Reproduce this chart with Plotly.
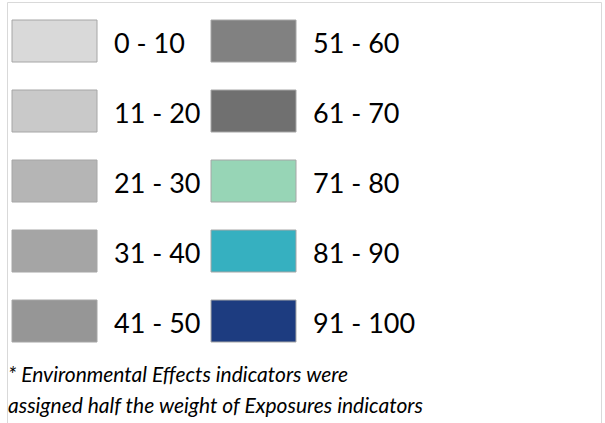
import plotly.graph_objects as go

# ---- data ----
labels = ["0 - 10", "11 - 20", "21 - 30", "31 - 40", "41 - 50",
          "51 - 60", "61 - 70", "71 - 80", "81 - 90", "91 - 100"]
colors = ["#d9d9d9", "#c9c9c9", "#b5b5b5", "#a5a5a5", "#969696",
          "#818181", "#707070", "#97d5b6", "#36b0c0", "#1d3c80"]
footnote = ["* Environmental Effects indicators were",
            "assigned half the weight of Exposures indicators"]

# ---- layout constants ----
W, H = 605, 423
rows_per_col = 5
col_x0 = [12, 211]
sw_w = 85
sw_h = 42
row_top0 = 20
row_step = 70
text_dx = 100

xs, bases = [], []
ann = []
for i, (lab, c) in enumerate(zip(labels, colors)):
    col, row = divmod(i, rows_per_col)
    x0 = col_x0[col]
    top = row_top0 + row * row_step
    xs.append(x0 + sw_w / 2)
    bases.append(top)
    ann.append(dict(x=x0 + text_dx, y=top + sw_h / 2 + 1, text=lab,
                    xanchor="left", yanchor="middle", showarrow=False,
                    font=dict(family="Lato", size=27, color="#000000")))

fig = go.Figure(go.Bar(
    x=xs, y=[sw_h] * len(labels), base=bases, width=[sw_w] * len(labels),
    marker=dict(color=colors, line=dict(color="#a6a6a6", width=1)),
    hoverinfo="skip", showlegend=False,
))

foot_y = [373, 404]
for txt, yy in zip(footnote, foot_y):
    ann.append(dict(x=6, y=yy, text="<i>" + txt + "</i>", xanchor="left",
                    yanchor="middle", showarrow=False,
                    font=dict(family="Lato", size=21, color="#000000")))

fig.update_layout(
    width=W, height=H, margin=dict(l=0, r=0, t=0, b=0),
    paper_bgcolor="white", plot_bgcolor="white",
    xaxis=dict(range=[0, W], visible=False, fixedrange=True),
    yaxis=dict(range=[H, 0], visible=False, fixedrange=True),
    annotations=ann,
    shapes=[dict(type="rect", xref="x", yref="y", x0=7.5, x1=601.5, y0=2.5, y1=H + 5,
                 line=dict(color="#d9d9d9", width=1), layer="below")],
    bargap=0,
)

div = fig.to_html(full_html=False, include_plotlyjs=True,
                  config={"displayModeBar": False, "staticPlot": True})
html = ("<!DOCTYPE html><html><head><meta charset='utf-8'>"
        "<style>html,body{margin:0;padding:0;overflow:hidden;background:#fff;}</style>"
        "</head><body>" + div + "</body></html>")
with open("out.html", "w", encoding="utf-8") as f:
    f.write(html)
